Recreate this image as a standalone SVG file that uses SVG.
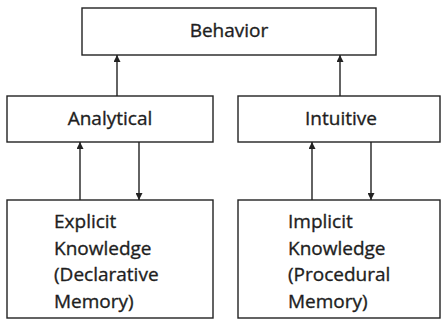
<svg xmlns="http://www.w3.org/2000/svg" width="441" height="321" viewBox="0 0 441 321">
<style>
.box{fill:#fff;stroke:#222;stroke-width:1.4}
.t{font-family:"Open Sans","Noto Sans",sans-serif;font-size:19px;fill:#1e1e1e;stroke:#1e1e1e;stroke-width:0.35}
.c{text-anchor:middle}
.e{stroke:#222;stroke-width:1.4;fill:none;marker-end:url(#ah)}
</style>
<defs>
<marker id="ah" viewBox="0 0 10 10" refX="10" refY="5" markerWidth="13" markerHeight="7" markerUnits="userSpaceOnUse" orient="auto">
<path d="M0,0 L10,5 L0,10 z" fill="#222"/>
</marker>
</defs>
<rect width="441" height="321" fill="#fff"/>
<g id="behavior"><rect class="box" x="82" y="8" width="294" height="47"/><text class="t c" x="229" y="37">Behavior</text></g>
<g id="analytical"><rect class="box" x="7" y="96" width="206" height="46"/><text class="t c" x="110" y="125">Analytical</text></g>
<g id="intuitive"><rect class="box" x="238" y="96" width="202" height="46"/><text class="t c" x="341" y="125">Intuitive</text></g>
<g id="explicit"><rect class="box" x="7" y="200" width="206" height="118"/>
<text class="t" x="54" y="228">Explicit</text><text class="t" x="54" y="255">Knowledge</text><text class="t" x="54" y="281">(Declarative</text><text class="t" x="54" y="308">Memory)</text></g>
<g id="implicit"><rect class="box" x="238" y="200" width="202" height="118"/>
<text class="t" x="288" y="228">Implicit</text><text class="t" x="288" y="255">Knowledge</text><text class="t" x="288" y="281">(Procedural</text><text class="t" x="288" y="308">Memory)</text></g>
<g id="connectors">
<line class="e" x1="117" y1="96" x2="117" y2="55"/>
<line class="e" x1="340" y1="96" x2="340" y2="55"/>
<line class="e" x1="80" y1="200" x2="80" y2="142"/>
<line class="e" x1="139" y1="142" x2="139" y2="200"/>
<line class="e" x1="312" y1="200" x2="312" y2="142"/>
<line class="e" x1="371" y1="142" x2="371" y2="200"/>
</g>
</svg>
